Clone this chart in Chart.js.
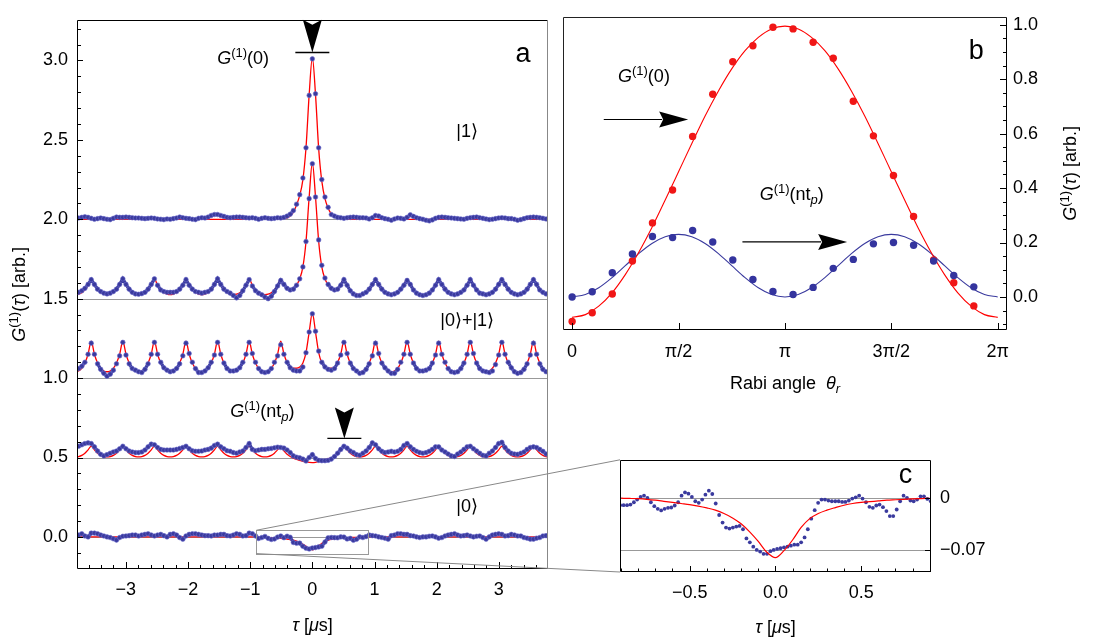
<!DOCTYPE html>
<html>
<head>
<meta charset="utf-8">
<style>
  html, body { margin: 0; padding: 0; background: #fff; }
  #fig { position: relative; width: 1105px; height: 641px; overflow: hidden; background: #fff; }
  #fig canvas { position: absolute; }
</style>
<script src="https://cdn.jsdelivr.net/npm/chart.js@4.4.0/dist/chart.umd.min.js"></script>
</head>
<body>
<div id="fig">
  <canvas id="panel-a" width="556" height="641" style="left:0;top:0;width:556px;height:641px"></canvas>
  <canvas id="panel-b" width="549" height="400" style="left:556px;top:0;width:549px;height:400px"></canvas>
  <canvas id="panel-c" width="505" height="201" style="left:600px;top:440px;width:505px;height:201px"></canvas>
  <canvas id="overlay" width="1105" height="641" style="left:0;top:0;width:1105px;height:641px;pointer-events:none"></canvas>
</div>
<script>
// ---------- panel a : G(1)(tau) traces, each shifted up by its offset ----------
const tauA = [
  -3.810, -3.759, -3.708, -3.658, -3.607, -3.556, -3.505, -3.454, -3.404, -3.353,
  -3.302, -3.251, -3.200, -3.150, -3.099, -3.048, -2.997, -2.946, -2.896, -2.845,
  -2.794, -2.743, -2.692, -2.642, -2.591, -2.540, -2.489, -2.438, -2.388, -2.337,
  -2.286, -2.235, -2.184, -2.134, -2.083, -2.032, -1.981, -1.930, -1.880, -1.829,
  -1.778, -1.727, -1.676, -1.626, -1.575, -1.524, -1.473, -1.422, -1.372, -1.321,
  -1.270, -1.219, -1.168, -1.118, -1.067, -1.016, -0.965, -0.914, -0.864, -0.813,
  -0.762, -0.711, -0.660, -0.610, -0.559, -0.508, -0.457, -0.406, -0.356, -0.305,
  -0.254, -0.203, -0.152, -0.102, -0.051, 0,
  0.051, 0.102, 0.152, 0.203, 0.254, 0.305, 0.356, 0.406, 0.457, 0.508,
  0.559, 0.610, 0.660, 0.711, 0.762, 0.813, 0.864, 0.914, 0.965, 1.016,
  1.067, 1.118, 1.168, 1.219, 1.270, 1.321, 1.372, 1.422, 1.473, 1.524,
  1.575, 1.626, 1.676, 1.727, 1.778, 1.829, 1.880, 1.930, 1.981, 2.032,
  2.083, 2.134, 2.184, 2.235, 2.286, 2.337, 2.388, 2.438, 2.489, 2.540,
  2.591, 2.642, 2.692, 2.743, 2.794, 2.845, 2.896, 2.946, 2.997, 3.048,
  3.099, 3.150, 3.200, 3.251, 3.302, 3.353, 3.404, 3.454, 3.505, 3.556,
  3.607, 3.658, 3.708, 3.759, 3.810
];

// vertical offsets of the five traces (|0>, nt_p, |0>+|1>, mixed, |1>)
const traceOffsets = [0, 0.5, 1.0, 1.5, 2.0];

// |0> measured
const dataState0 = [
  0.006, 0.012, 0.02, 0.006, 0.0, 0.024, 0.024, 0.02, 0.012, 0.006,
  0.0, -0.004, -0.012, -0.02, -0.004, 0.004, 0.006, 0.008, 0.012, 0.012,
  0.006, 0.012, 0.016, 0.02, 0.012, 0.006, 0.012, 0.016, 0.008, 0.0,
  0.016, 0.02, 0.012, -0.004, -0.014, 0.006, 0.016, 0.02, 0.02, 0.016,
  0.012, 0.008, 0.008, 0.006, 0.012, 0.012, 0.016, 0.016, 0.008, 0.006,
  0.012, 0.02, 0.016, 0.006, 0.008, 0.024, 0.02, 0.006,
  -0.01, -0.004, 0.003, -0.009, -0.016, -0.013, -0.001, 0.006, -0.005, 0.0045,
  -0.002, -0.035, -0.040, -0.039, -0.059, -0.071, -0.076, -0.070, -0.067, -0.063,
  -0.059, -0.032, -0.006, -0.0035, -0.0045, -0.0055, 0.0, -0.001, -0.013, -0.009,
  -0.021, -0.015, 0.0, -0.004, 0.002,
  0.012, 0.008, 0.006, 0.0, -0.004, -0.008, -0.014, 0.008, 0.012, 0.02,
  0.02, 0.016, 0.016, 0.008, 0.006, 0.0, -0.004, 0.0, 0.0, 0.004,
  0.006, 0.0, -0.008, -0.004, 0.006, 0.012, 0.016, 0.02, 0.012, 0.006,
  0.008, 0.012, 0.006, 0.0, 0.004, 0.006, -0.004, -0.014, 0.0, 0.012,
  0.016, 0.02, 0.016, 0.006, 0.008, 0.016, 0.012, 0.006, 0.006, -0.004,
  -0.008, -0.014, -0.014, -0.008, -0.004, 0.006, 0.008, 0.006
];
const fitState0 = [
  0, 0, 0, 0, 0, 0, 0, 0, 0, 0, 0, 0, 0, 0, 0, 0, 0, 0, 0, 0,
  0, 0, 0, 0, 0, 0, 0, 0, 0, 0, 0, 0, 0, 0, 0, 0, 0, 0, 0, 0,
  0, 0, 0, 0, 0, 0, 0, 0, 0, 0, 0, 0, 0, 0, 0, 0, 0,
  -0.0003, -0.0006, -0.001, -0.002, -0.003, -0.0045, -0.006, -0.0075, -0.009, -0.011,
  -0.013, -0.017, -0.021, -0.027, -0.035, -0.047, -0.059, -0.073, -0.081, -0.072,
  -0.056, -0.041, -0.028, -0.021, -0.016, -0.013, -0.010, -0.0075, -0.006, -0.005,
  -0.004, -0.003, -0.0024, -0.0018, -0.0012, -0.0008, -0.0004,
  0, 0, 0, 0, 0, 0, 0, 0, 0, 0, 0, 0, 0, 0, 0, 0, 0, 0, 0, 0,
  0, 0, 0, 0, 0, 0, 0, 0, 0, 0, 0, 0, 0, 0, 0, 0, 0, 0, 0, 0,
  0, 0, 0, 0, 0, 0, 0, 0, 0, 0, 0, 0, 0, 0, 0, 0, 0
];

// G(1)(nt_p) trace
const dataStateNt = [
  0.061, 0.071, 0.08, 0.088, 0.092, 0.088, 0.067, 0.041, 0.02, 0.01,
  0.018, 0.027, 0.035, 0.041, 0.055, 0.071, 0.055, 0.041, 0.035, 0.031,
  0.031, 0.035, 0.047, 0.067, 0.084, 0.08, 0.063, 0.051, 0.047, 0.047,
  0.047, 0.047, 0.051, 0.057, 0.063, 0.071, 0.055, 0.043, 0.039, 0.039,
  0.041, 0.047, 0.051, 0.059, 0.076, 0.084, 0.067, 0.055, 0.043, 0.039,
  0.031, 0.027, 0.035, 0.041, 0.063, 0.088, 0.051, 0.043, 0.047, 0.051,
  0.051, 0.055, 0.057, 0.061, 0.065, 0.063, 0.059, 0.047, 0.031, 0.01,
  0.002, -0.002, -0.01, -0.022, 0.0, 0.018, -0.006, -0.018, -0.02, -0.02, -0.018,
  -0.01, 0.006, 0.027, 0.051, 0.071, 0.059, 0.041, 0.031, 0.018, 0.014,
  0.027, 0.041, 0.063, 0.092, 0.08, 0.055, 0.039, 0.031, 0.035, 0.039,
  0.035, 0.039, 0.051, 0.076, 0.088, 0.067, 0.051, 0.039, 0.031, 0.027,
  0.031, 0.039, 0.051, 0.067, 0.067, 0.047, 0.035, 0.022, 0.01, 0.006,
  0.022, 0.035, 0.051, 0.067, 0.071, 0.055, 0.041, 0.027, 0.014, 0.01,
  0.027, 0.041, 0.063, 0.088, 0.096, 0.063, 0.041, 0.027, 0.022, 0.02,
  0.027, 0.035, 0.051, 0.063, 0.067, 0.063, 0.051, 0.039, 0.022, 0.01
];
const fitStateNt = [
  0.004, 0.006, 0.013, 0.027, 0.048, 0.072, 0.048, 0.027, 0.013, 0.006,
  0.004, 0.006, 0.013, 0.027, 0.048, 0.072, 0.048, 0.027, 0.013, 0.006,
  0.004, 0.006, 0.013, 0.027, 0.048, 0.072, 0.048, 0.027, 0.013, 0.006,
  0.004, 0.006, 0.013, 0.027, 0.048, 0.072, 0.048, 0.027, 0.013, 0.006,
  0.004, 0.006, 0.013, 0.027, 0.048, 0.072, 0.048, 0.027, 0.013, 0.006,
  0.004, 0.006, 0.013, 0.027, 0.048, 0.072, 0.048, 0.027, 0.013, 0.006,
  0.004, 0.006, 0.013, 0.027, 0.048,
  0.065, 0.042, 0.02, 0.006, -0.004, -0.012, -0.018, -0.024, -0.028, -0.031,
  -0.032, -0.030, -0.026, -0.020, -0.014, -0.008, -0.002, 0.007, 0.022, 0.044, 0.068,
  0.048, 0.027, 0.013, 0.006, 0.004,
  0.006, 0.013, 0.027, 0.048, 0.072, 0.048, 0.027, 0.013, 0.006, 0.004,
  0.006, 0.013, 0.027, 0.048, 0.072, 0.048, 0.027, 0.013, 0.006, 0.004,
  0.006, 0.013, 0.027, 0.048, 0.072, 0.048, 0.027, 0.013, 0.006, 0.004,
  0.006, 0.013, 0.027, 0.048, 0.072, 0.048, 0.027, 0.013, 0.006, 0.004,
  0.006, 0.013, 0.027, 0.048, 0.072, 0.048, 0.027, 0.013, 0.006, 0.004,
  0.006, 0.013, 0.027, 0.048, 0.072, 0.048, 0.027, 0.013, 0.006, 0.004
];

// |0>+|1>
const dataState01 = [
  0.05, 0.06, 0.075, 0.10, 0.15, 0.22, 0.15, 0.09, 0.055, 0.03,
  0.012, 0.025, 0.05, 0.09, 0.14, 0.225, 0.145, 0.09, 0.06, 0.05,
  0.04, 0.035, 0.055, 0.09, 0.15, 0.225, 0.15, 0.10, 0.065, 0.05,
  0.04, 0.045, 0.06, 0.09, 0.14, 0.22, 0.155, 0.1, 0.06, 0.035,
  0.035, 0.045, 0.065, 0.1, 0.145, 0.225, 0.15, 0.095, 0.06, 0.045,
  0.045, 0.05, 0.065, 0.10, 0.15, 0.225, 0.155, 0.1, 0.06, 0.04,
  0.035, 0.04, 0.06, 0.1, 0.14,
  0.21, 0.15, 0.1, 0.065, 0.05, 0.045, 0.045, 0.07, 0.16, 0.29,
  0.405, 0.295, 0.17, 0.1, 0.07, 0.055, 0.05, 0.06, 0.095, 0.145, 0.225,
  0.155, 0.095, 0.06, 0.045, 0.03,
  0.035, 0.055, 0.09, 0.14, 0.22, 0.155, 0.095, 0.065, 0.045, 0.03,
  0.03, 0.055, 0.1, 0.15, 0.225, 0.15, 0.095, 0.06, 0.045, 0.045,
  0.05, 0.06, 0.095, 0.145, 0.22, 0.15, 0.1, 0.06, 0.04, 0.035,
  0.04, 0.06, 0.095, 0.15, 0.225, 0.155, 0.095, 0.06, 0.045, 0.04,
  0.035, 0.045, 0.085, 0.145, 0.225, 0.15, 0.1, 0.065, 0.04, 0.03,
  0.035, 0.055, 0.09, 0.145, 0.22, 0.15, 0.09, 0.055, 0.04, 0.04
];
const fitState01 = [
  0.040, 0.045, 0.062, 0.095, 0.150, 0.232, 0.150, 0.095, 0.062, 0.045,
  0.040, 0.045, 0.062, 0.095, 0.150, 0.232, 0.150, 0.095, 0.062, 0.045,
  0.040, 0.045, 0.062, 0.095, 0.150, 0.232, 0.150, 0.095, 0.062, 0.045,
  0.040, 0.045, 0.062, 0.095, 0.150, 0.232, 0.150, 0.095, 0.062, 0.045,
  0.040, 0.045, 0.062, 0.095, 0.150, 0.232, 0.150, 0.095, 0.062, 0.045,
  0.040, 0.045, 0.062, 0.095, 0.150, 0.232, 0.150, 0.095, 0.062, 0.045,
  0.040, 0.045, 0.062, 0.095, 0.150,
  0.232, 0.152, 0.098, 0.069, 0.062, 0.062, 0.070, 0.095, 0.160, 0.290,
  0.410, 0.290, 0.160, 0.095, 0.070, 0.062, 0.062, 0.069, 0.098, 0.152, 0.232,
  0.150, 0.095, 0.062, 0.045, 0.040,
  0.045, 0.062, 0.095, 0.150, 0.232, 0.150, 0.095, 0.062, 0.045, 0.040,
  0.045, 0.062, 0.095, 0.150, 0.232, 0.150, 0.095, 0.062, 0.045, 0.040,
  0.045, 0.062, 0.095, 0.150, 0.232, 0.150, 0.095, 0.062, 0.045, 0.040,
  0.045, 0.062, 0.095, 0.150, 0.232, 0.150, 0.095, 0.062, 0.045, 0.040,
  0.045, 0.062, 0.095, 0.150, 0.232, 0.150, 0.095, 0.062, 0.045, 0.040,
  0.045, 0.062, 0.095, 0.150, 0.232, 0.150, 0.095, 0.062, 0.045, 0.040
];

// trace at offset 1.5
const dataState15 = [
  0.03, 0.04, 0.05, 0.065, 0.09, 0.12, 0.09, 0.06, 0.045, 0.035,
  0.03, 0.035, 0.045, 0.06, 0.09, 0.125, 0.09, 0.06, 0.04, 0.03,
  0.028, 0.032, 0.04, 0.06, 0.09, 0.125, 0.085, 0.055, 0.045, 0.04,
  0.04, 0.04, 0.045, 0.06, 0.085, 0.12, 0.085, 0.06, 0.045, 0.04,
  0.035, 0.04, 0.045, 0.06, 0.09, 0.125, 0.09, 0.06, 0.045, 0.035,
  0.02, 0.005, 0.02, 0.05, 0.085, 0.12, 0.08, 0.05, 0.035, 0.025,
  0.01, 0.0, 0.015, 0.045, 0.08,
  0.115, 0.09, 0.065, 0.055, 0.06, 0.085, 0.125, 0.2, 0.36, 0.63,
  0.85, 0.64, 0.37, 0.21, 0.13, 0.09, 0.065, 0.055, 0.06, 0.085, 0.12,
  0.085, 0.05, 0.03, 0.02, 0.02,
  0.03, 0.04, 0.06, 0.09, 0.12, 0.09, 0.06, 0.04, 0.03, 0.025,
  0.03, 0.04, 0.06, 0.085, 0.115, 0.09, 0.055, 0.035, 0.025, 0.02,
  0.025, 0.035, 0.055, 0.085, 0.12, 0.09, 0.06, 0.04, 0.03, 0.025,
  0.03, 0.04, 0.055, 0.085, 0.12, 0.085, 0.055, 0.035, 0.03, 0.025,
  0.03, 0.04, 0.06, 0.09, 0.12, 0.09, 0.06, 0.04, 0.03, 0.025,
  0.03, 0.04, 0.06, 0.09, 0.12, 0.09, 0.055, 0.04, 0.03, 0.02
];
const fitState15 = [
  0.025, 0.028, 0.037, 0.055, 0.085, 0.125, 0.085, 0.055, 0.037, 0.028,
  0.025, 0.028, 0.037, 0.055, 0.085, 0.125, 0.085, 0.055, 0.037, 0.028,
  0.025, 0.028, 0.037, 0.055, 0.085, 0.125, 0.085, 0.055, 0.037, 0.028,
  0.025, 0.028, 0.037, 0.055, 0.085, 0.125, 0.085, 0.055, 0.037, 0.028,
  0.025, 0.028, 0.037, 0.055, 0.085, 0.125, 0.085, 0.055, 0.037, 0.028,
  0.025, 0.028, 0.037, 0.055, 0.085, 0.125, 0.085, 0.055, 0.037, 0.028,
  0.025, 0.028, 0.037, 0.055, 0.085,
  0.125, 0.088, 0.063, 0.055, 0.06, 0.085, 0.125, 0.2, 0.36, 0.64,
  0.857, 0.64, 0.36, 0.2, 0.125, 0.085, 0.06, 0.055, 0.063, 0.088, 0.125,
  0.085, 0.055, 0.037, 0.028, 0.025,
  0.028, 0.037, 0.055, 0.085, 0.125, 0.085, 0.055, 0.037, 0.028, 0.025,
  0.028, 0.037, 0.055, 0.085, 0.125, 0.085, 0.055, 0.037, 0.028, 0.025,
  0.028, 0.037, 0.055, 0.085, 0.125, 0.085, 0.055, 0.037, 0.028, 0.025,
  0.028, 0.037, 0.055, 0.085, 0.125, 0.085, 0.055, 0.037, 0.028, 0.025,
  0.028, 0.037, 0.055, 0.085, 0.125, 0.085, 0.055, 0.037, 0.028, 0.025,
  0.028, 0.037, 0.055, 0.085, 0.125, 0.085, 0.055, 0.037, 0.028, 0.025
];

// |1>
const dataState1 = [
  0.005, 0.008, 0.012, 0.016, 0.012, 0.006, 0.0, 0.004, 0.008, 0.004,
  0.0, -0.002, 0.006, 0.014, 0.012,
  0.012, 0.014, 0.012, 0.010, 0.008, 0.008, 0.006, 0.004, 0.006, 0.008,
  0.006, 0.002, 0.0, -0.002, 0.002,
  0.0, 0.004, 0.008, 0.014, 0.010, 0.006, 0.004, 0.0, -0.002, 0.006,
  0.010, 0.008, 0.014, 0.024, 0.030,
  0.030, 0.024, 0.018, 0.012, 0.010, 0.012, 0.014, 0.014, 0.012, 0.010,
  0.008, 0.010, 0.006, 0.0, 0.006,
  0.010, 0.006, 0.004, 0.006, 0.010, 0.008, 0.012, 0.020, 0.032, 0.055,
  0.095, 0.155, 0.26, 0.45, 0.78, 1.01, 0.79, 0.45, 0.25, 0.14, 0.075,
  0.03, 0.02, 0.012, 0.01, 0.006, 0.01, 0.012, 0.014, 0.012, 0.01,
  0.01, 0.008, 0.002, 0.01, 0.024, 0.02, 0.01, 0.004, 0.0, -0.006,
  0.002, 0.008, 0.006, 0.002, 0.012, 0.028, 0.018, 0.01, 0.004, 0.0,
  -0.006, -0.01, -0.004, 0.006, 0.012, 0.014, 0.012, 0.01, 0.008, 0.006,
  0.004, 0.002, 0.0, 0.006, 0.01, 0.012, 0.014, 0.01, 0.006, 0.002,
  -0.002, 0.0, 0.004, 0.008, 0.01, 0.008, 0.004, 0.004, 0.0, -0.006,
  -0.002, 0.004, 0.01, 0.012, 0.014, 0.012, 0.01, 0.006, 0.002, 0.0
];
const fitState1 = [
  0, 0, 0, 0, 0, 0, 0, 0, 0, 0, 0, 0, 0, 0, 0, 0, 0, 0, 0, 0, 0, 0,
  0, 0, 0, 0, 0, 0, 0, 0, 0, 0, 0, 0, 0, 0, 0, 0, 0, 0, 0, 0, 0, 0,
  0, 0, 0, 0, 0, 0, 0, 0, 0, 0, 0, 0, 0, 0, 0, 0, 0, 0, 0, 0, 0, 0,
  0.004, 0.009, 0.02, 0.045, 0.09, 0.15, 0.25, 0.45, 0.785, 1.02,
  0.785, 0.443, 0.24, 0.13, 0.07, 0.035, 0.018, 0.009, 0.004,
  0, 0, 0, 0, 0, 0, 0, 0, 0, 0, 0, 0, 0, 0, 0, 0, 0, 0, 0, 0, 0, 0,
  0, 0, 0, 0, 0, 0, 0, 0, 0, 0, 0, 0, 0, 0, 0, 0, 0, 0, 0, 0, 0, 0,
  0, 0, 0, 0, 0, 0, 0, 0, 0, 0, 0, 0, 0, 0, 0, 0, 0, 0, 0, 0, 0, 0
];

// ---------- panel b : peak heights against Rabi angle ----------
const rabiAngle = [
  0, 0.297, 0.593, 0.890, 1.186, 1.483, 1.779, 2.076, 2.372, 2.669, 2.965,
  3.262, 3.558, 3.855, 4.151, 4.448, 4.744, 5.041, 5.337, 5.634, 5.930
];
const peakG0 = [
  -0.090, -0.058, 0.011, 0.132, 0.272, 0.393, 0.590, 0.745, 0.864, 0.923, 0.991,
  0.985, 0.936, 0.877, 0.719, 0.592, 0.446, 0.296, 0.136, 0.052, -0.033
];
const peakGnt = [
  0.0, 0.019, 0.089, 0.158, 0.222, 0.218, 0.244, 0.202, 0.136, 0.064, 0.020,
  0.009, 0.035, 0.105, 0.138, 0.195, 0.200, 0.190, 0.132, 0.079, 0.037
];
const rabiFitAngle = [
  0, 0.196, 0.393, 0.589, 0.785, 0.982, 1.178, 1.374, 1.571, 1.767, 1.963,
  2.160, 2.356, 2.553, 2.749, 2.945, 3.142, 3.338, 3.534, 3.731, 3.927, 4.123,
  4.320, 4.516, 4.712, 4.909, 5.105, 5.301, 5.498, 5.694, 5.890, 6.087, 6.283
];
const fitPeakG0 = [
  -0.075, -0.065, -0.034, 0.015, 0.082, 0.163, 0.255, 0.356, 0.46, 0.564, 0.665,
  0.757, 0.838, 0.905, 0.954, 0.985, 0.995, 0.985, 0.954, 0.905, 0.838, 0.757,
  0.665, 0.564, 0.46, 0.356, 0.255, 0.163, 0.082, 0.015, -0.034, -0.065, -0.075
];
const fitPeakGnt = [
  0, 0.0088, 0.0337, 0.071, 0.115, 0.159, 0.1963, 0.2212, 0.23, 0.2212, 0.1963,
  0.159, 0.115, 0.071, 0.0337, 0.0088, 0, 0.0088, 0.0337, 0.071, 0.115, 0.159,
  0.1963, 0.2212, 0.23, 0.2212, 0.1963, 0.159, 0.115, 0.071, 0.0337, 0.0088, 0
];

// ---------- panel c : close-up of the |0> dip ----------
const tauC = [
  -0.905, -0.885, -0.865, -0.845, -0.825, -0.806, -0.786, -0.766, -0.746, -0.726,
  -0.706, -0.686, -0.666, -0.646, -0.626, -0.607, -0.587, -0.567, -0.547, -0.527,
  -0.507, -0.487, -0.467, -0.447, -0.427, -0.408, -0.388, -0.368, -0.348, -0.328,
  -0.308, -0.288, -0.268, -0.248, -0.228, -0.209, -0.189, -0.169, -0.149, -0.129,
  -0.109, -0.089, -0.069, -0.049, -0.029, -0.010, 0.010, 0.030, 0.050, 0.070,
  0.090, 0.110, 0.130, 0.150, 0.170, 0.189, 0.209, 0.229, 0.249, 0.269,
  0.289, 0.309, 0.329, 0.349, 0.369, 0.389, 0.408, 0.428, 0.448, 0.468,
  0.488, 0.508, 0.528, 0.548, 0.568, 0.588, 0.607, 0.627, 0.647, 0.667,
  0.687, 0.707, 0.727, 0.747, 0.767, 0.787, 0.806, 0.826, 0.846, 0.866,
  0.886, 0.906
];
const dipC = [
  -0.0098, -0.0098, -0.0098, -0.0089, -0.0058, -0.0022, 0.0014, 0.0032, 0.0, -0.0058,
  -0.0111, -0.0147, -0.0169, -0.0147, -0.0133, -0.0129, -0.0102, -0.0058, 0.0032, 0.0076,
  0.0058, 0.0014, -0.0044, -0.0066, -0.0022, 0.0045, 0.0099, 0.0054, -0.0075, -0.0231,
  -0.0334, -0.0401, -0.0415, -0.0401, -0.0388, -0.0379, -0.0424, -0.0549, -0.0602, -0.0660,
  -0.0705, -0.0727, -0.0758, -0.0758, -0.0722, -0.0705, -0.0691, -0.0682, -0.0669, -0.0660,
  -0.0647, -0.0633, -0.0633, -0.0602, -0.0535, -0.0424, -0.0281, -0.0165, -0.0066, -0.0022,
  -0.0022, -0.0035, -0.0044, -0.0044, -0.0044, -0.0053, -0.0053, -0.0035, -0.0008, 0.0009,
  0.0032, -0.0008, -0.0058, -0.0120, -0.0133, -0.0102, -0.0089, -0.0124, -0.0178, -0.0245,
  -0.0245, -0.0156, -0.0044, 0.0032, 0.0, -0.0035, -0.0044, -0.0022, 0.0023, 0.0023,
  -0.0013, -0.0044
];
const fitTauC = [
  -0.90, -0.85, -0.80, -0.75, -0.70, -0.65, -0.60, -0.55, -0.50, -0.45, -0.40, -0.35,
  -0.30, -0.25, -0.20, -0.15, -0.10, -0.05, 0, 0.05, 0.10, 0.15, 0.20, 0.25,
  0.30, 0.35, 0.40, 0.45, 0.50, 0.55, 0.60, 0.65, 0.70, 0.75, 0.80, 0.85, 0.90
];
const fitDipC = [
  -0.0003, -0.0006, -0.001, -0.0018, -0.003, -0.0045, -0.006, -0.0075, -0.009, -0.011,
  -0.0135, -0.0165, -0.021, -0.027, -0.035, -0.046, -0.059, -0.0735, -0.081, -0.0715,
  -0.057, -0.040, -0.028, -0.021, -0.0165, -0.013, -0.0098, -0.0075, -0.006, -0.005,
  -0.004, -0.003, -0.0024, -0.0018, -0.0012, -0.0008, -0.0004
];

[dataState0, fitState0, dataStateNt, fitStateNt, dataState01, fitState01,
 dataState15, fitState15, dataState1, fitState1].forEach((a, i) => {
  if (a.length !== tauA.length) throw new Error('panel a series ' + i + ' has ' + a.length + ' values');
});

// ---------- styling ----------
const FONT = "'Liberation Sans', Arial, Helvetica, sans-serif";
const RED = 'rgb(255,0,0)';
const BLUE = 'rgb(58,58,158)';
const GREY = '#999';

Chart.defaults.font.family = FONT;
Chart.defaults.font.size = 18;
Chart.defaults.color = '#000';
Chart.defaults.animation = false;

const xy = (xs, ys, offset = 0) => xs.map((x, i) => ({ x: x, y: ys[i] + offset }));
const minus = v => (v < 0 ? '\u2212' + Math.abs(v) : String(v));

// rich text: parts like {t, it, sup, sub}
function richText(ctx, parts, x, y, opts = {}) {
  const size = opts.size || 18;
  const runs = parts.map(p => {
    const s = (p.sup || p.sub) ? Math.round(size * 0.7) : size;
    const font = (p.it ? 'italic ' : '') + s + 'px ' + FONT;
    ctx.font = font;
    return { t: p.t, font: font, w: ctx.measureText(p.t).width, dy: p.sup ? -size * 0.38 : (p.sub ? size * 0.22 : 0) };
  });
  const total = runs.reduce((a, r) => a + r.w, 0);
  ctx.save();
  ctx.translate(x, y);
  if (opts.rotate) ctx.rotate(opts.rotate);
  ctx.fillStyle = '#000';
  ctx.textAlign = 'left';
  ctx.textBaseline = 'alphabetic';
  let cx = opts.align === 'center' ? -total / 2 : 0;
  runs.forEach(r => { ctx.font = r.font; ctx.fillText(r.t, cx, r.dy); cx += r.w; });
  ctx.restore();
}

// black dart arrowhead; (dx, dy) is the unit direction of travel
function dart(ctx, tipX, tipY, dx, dy, len, half, notch) {
  const bx = tipX - dx * len, by = tipY - dy * len;
  const nx = -dy, ny = dx;
  ctx.beginPath();
  ctx.moveTo(tipX, tipY);
  ctx.lineTo(bx + nx * half, by + ny * half);
  ctx.lineTo(tipX - dx * (len - notch), tipY - dy * (len - notch));
  ctx.lineTo(bx - nx * half, by - ny * half);
  ctx.closePath();
  ctx.fill();
}

function frame(ctx, ca, colors) {
  const l = Math.round(ca.left) + 0.5, r = Math.round(ca.right) - 0.5;
  const t = Math.round(ca.top) + 0.5, b = Math.round(ca.bottom) - 0.5;
  ctx.save();
  ctx.lineWidth = 1;
  [['top', l, t, r, t], ['right', r, t, r, b], ['bottom', l, b, r, b], ['left', l, t, l, b]].forEach(([side, x1, y1, x2, y2]) => {
    ctx.strokeStyle = colors[side];
    ctx.beginPath(); ctx.moveTo(x1, y1); ctx.lineTo(x2, y2); ctx.stroke();
  });
  ctx.restore();
}

// inward tick marks: spec = {bottom: [[v, len]], left: [...], right: [...]}
function tickMarks(ctx, chart, spec) {
  const ca = chart.chartArea, sx = chart.scales.x, sy = chart.scales.y;
  ctx.save();
  ctx.strokeStyle = '#000';
  ctx.lineWidth = 1;
  ctx.beginPath();
  (spec.bottom || []).forEach(([v, len]) => {
    const px = Math.round(sx.getPixelForValue(v)) + 0.5;
    if (px < ca.left || px > ca.right) return;
    ctx.moveTo(px, ca.bottom); ctx.lineTo(px, ca.bottom - len);
  });
  (spec.left || []).forEach(([v, len]) => {
    const py = Math.round(sy.getPixelForValue(v)) + 0.5;
    if (py < ca.top || py > ca.bottom) return;
    ctx.moveTo(ca.left, py); ctx.lineTo(ca.left + len, py);
  });
  (spec.right || []).forEach(([v, len]) => {
    const py = Math.round(sy.getPixelForValue(v)) + 0.5;
    if (py < ca.top || py > ca.bottom) return;
    ctx.moveTo(ca.right, py); ctx.lineTo(ca.right - len, py);
  });
  ctx.stroke();
  ctx.restore();
}

const G1_0 = [{ t: 'G', it: 1 }, { t: '(1)', sup: 1 }, { t: '(0)' }];
const G1_nt = [{ t: 'G', it: 1 }, { t: '(1)', sup: 1 }, { t: '(nt' }, { t: 'p', it: 1, sub: 1 }, { t: ')' }];
const G1_tau = [{ t: 'G', it: 1 }, { t: '(1)', sup: 1 }, { t: '(' }, { t: '\u03c4', it: 1 }, { t: ') [arb.]' }];
const TAU_US = [{ t: '\u03c4', it: 1 }, { t: ' [' }, { t: '\u03bc', it: 1 }, { t: 's]' }];

const noLegend = { legend: { display: false }, tooltip: { enabled: false } };
const hiddenGrid = { display: false, drawTicks: false, tickLength: 0 };

// ---------- panel a chart ----------
const zoomBox = { x0: -0.9, x1: 0.9, y0: -0.105, y1: 0.042 };
const markersA = [{ tau: 0, tip: 3.05, top: 3.256 }, { tau: 0.515, tip: 0.62, top: 0.815 }];

const ticksA = {
  left: [], bottom: []
};
for (let i = -2; i <= 32; i++) ticksA.left.push([i / 10, i % 5 === 0 ? 6 : 4]);
for (let i = -19; i <= 19; i++) ticksA.bottom.push([i / 5, i % 5 === 0 ? 7 : 4]);

const panelA = {
  id: 'panelA',
  beforeDatasetsDraw(chart) {
    const { ctx, chartArea: ca, scales: { y } } = chart;
    ctx.save();
    ctx.strokeStyle = GREY;
    ctx.lineWidth = 1;
    traceOffsets.forEach(v => {
      const py = Math.round(y.getPixelForValue(v)) + 0.5;
      ctx.beginPath(); ctx.moveTo(ca.left, py); ctx.lineTo(ca.right, py); ctx.stroke();
    });
    ctx.restore();
  },
  afterDatasetsDraw(chart) {
    const { ctx, chartArea: ca, scales: { x, y } } = chart;
    // zoom window
    ctx.save();
    ctx.strokeStyle = GREY;
    ctx.lineWidth = 1;
    const rx0 = Math.round(x.getPixelForValue(zoomBox.x0)) + 0.5, rx1 = Math.round(x.getPixelForValue(zoomBox.x1)) + 0.5;
    const ry0 = Math.round(y.getPixelForValue(zoomBox.y1)) + 0.5, ry1 = Math.round(y.getPixelForValue(zoomBox.y0)) + 0.5;
    ctx.strokeRect(rx0, ry0, rx1 - rx0, ry1 - ry0);
    ctx.restore();

    frame(ctx, ca, { top: '#000', right: '#888', bottom: '#000', left: '#000' });
    tickMarks(ctx, chart, ticksA);

    // peak markers
    ctx.save();
    ctx.fillStyle = '#000';
    ctx.strokeStyle = '#000';
    ctx.lineWidth = 1.3;
    markersA.forEach(m => {
      const px = x.getPixelForValue(m.tau), tip = y.getPixelForValue(m.tip), top = y.getPixelForValue(m.top);
      dart(ctx, px, tip, 0, 1, tip - top, 9.5, 5);
      ctx.beginPath(); ctx.moveTo(px - 17, tip); ctx.lineTo(px + 17, tip); ctx.stroke();
    });
    ctx.restore();

    // labels
    richText(ctx, G1_0, x.getPixelForValue(-1.53), y.getPixelForValue(2.98));
    richText(ctx, [{ t: '|1\u27e9' }], x.getPixelForValue(2.49), y.getPixelForValue(2.52), { align: 'center' });
    richText(ctx, [{ t: '|0\u27e9+|1\u27e9' }], x.getPixelForValue(2.49), y.getPixelForValue(1.33), { align: 'center' });
    richText(ctx, G1_nt, x.getPixelForValue(-1.32), y.getPixelForValue(0.755));
    richText(ctx, [{ t: '|0\u27e9' }], x.getPixelForValue(2.49), y.getPixelForValue(0.16), { align: 'center' });
    richText(ctx, [{ t: 'a' }], x.getPixelForValue(3.39), y.getPixelForValue(2.99), { align: 'center', size: 27 });

    // axis titles
    richText(ctx, TAU_US, (ca.left + ca.right) / 2, 631, { align: 'center' });
    richText(ctx, G1_tau, 25, (ca.top + ca.bottom) / 2, { align: 'center', rotate: -Math.PI / 2 });
  }
};

const tracesA = [
  { data: dataState0, fit: fitState0, offset: traceOffsets[0] },
  { data: dataStateNt, fit: fitStateNt, offset: traceOffsets[1] },
  { data: dataState01, fit: fitState01, offset: traceOffsets[2] },
  { data: dataState15, fit: fitState15, offset: traceOffsets[3] },
  { data: dataState1, fit: fitState1, offset: traceOffsets[4] }
];

// measured points merge into a thick band where the trace is flat,
// and stay as separate dots on the steep flanks
const bandColour = ctx => (Math.abs(ctx.p1.y - ctx.p0.y) > 6 ? 'rgba(0,0,0,0)' : BLUE);

const chartA = new Chart(document.getElementById('panel-a'), {
  type: 'line',
  data: {
    datasets: tracesA.flatMap(t => [
      {
        data: xy(tauA, t.fit, t.offset),
        borderColor: RED, borderWidth: 1.3, pointRadius: 0,
        cubicInterpolationMode: 'monotone', order: 2, clip: 0
      },
      {
        data: xy(tauA, t.data, t.offset),
        borderColor: BLUE, borderWidth: 3.2,
        segment: { borderColor: bandColour },
        pointRadius: 2.3, pointBorderWidth: 1,
        pointBackgroundColor: BLUE, pointBorderColor: 'rgba(110,110,205,0.6)',
        order: 1, clip: 0
      }
    ])
  },
  options: {
    responsive: false,
    devicePixelRatio: 1,
    events: [],
    layout: { padding: { left: 0, top: 5, right: 8, bottom: 0 } },
    plugins: noLegend,
    scales: {
      x: {
        type: 'linear', min: -3.785, max: 3.79,
        grid: hiddenGrid, border: { display: false },
        afterBuildTicks: s => { s.ticks = [-3, -2, -1, 0, 1, 2, 3].map(v => ({ value: v })); },
        afterFit: s => { s.height = 72; },
        ticks: { padding: 10, maxRotation: 0, callback: v => minus(v) }
      },
      y: {
        type: 'linear', min: -0.202, max: 3.256,
        grid: hiddenGrid, border: { display: false },
        afterBuildTicks: s => { s.ticks = [0, 0.5, 1, 1.5, 2, 2.5, 3].map(v => ({ value: v })); },
        afterFit: s => { s.width = 77; },
        ticks: { padding: 9, callback: v => v.toFixed(1) }
      }
    }
  },
  plugins: [panelA]
});

// ---------- panel b chart ----------
const arrowsB = [{ from: 0.467, to: 1.713, y: 0.652 }, { from: 2.514, to: 4.06, y: 0.202 }];
const ticksB = { right: [], bottom: [] };
for (let i = -2; i <= 20; i++) ticksB.right.push([i / 20, i % 4 === 0 ? 7 : 4]);
for (let i = 0; i <= 4; i++) ticksB.bottom.push([i * Math.PI / 2, 7]);

const panelB = {
  id: 'panelB',
  afterDatasetsDraw(chart) {
    const { ctx, chartArea: ca, scales: { x, y } } = chart;
    frame(ctx, ca, { top: '#222', right: '#000', bottom: '#000', left: '#222' });
    tickMarks(ctx, chart, ticksB);

    ctx.save();
    ctx.fillStyle = '#000';
    ctx.strokeStyle = '#000';
    ctx.lineWidth = 1.2;
    arrowsB.forEach(a => {
      const x0 = x.getPixelForValue(a.from), x1 = x.getPixelForValue(a.to), py = y.getPixelForValue(a.y);
      ctx.beginPath(); ctx.moveTo(x0, py); ctx.lineTo(x1 - 26, py); ctx.stroke();
      dart(ctx, x1, py, 1, 0, 29, 8, 4);
    });
    ctx.restore();

    richText(ctx, G1_0, x.getPixelForValue(0.677), y.getPixelForValue(0.789));
    richText(ctx, G1_nt, x.getPixelForValue(2.769), y.getPixelForValue(0.357));
    richText(ctx, [{ t: 'b' }], x.getPixelForValue(5.965), y.getPixelForValue(0.876), { align: 'center', size: 27 });

    richText(ctx, [{ t: 'Rabi angle  ' }, { t: '\u03b8', it: 1 }, { t: 'r', it: 1, sub: 1 }], (ca.left + ca.right) / 2, 389, { align: 'center' });
    richText(ctx, G1_tau, 520, (ca.top + ca.bottom) / 2, { align: 'center', rotate: -Math.PI / 2 });
  }
};

const piLabels = ['0', '\u03c0/2', '\u03c0', '3\u03c0/2', '2\u03c0'];
const chartB = new Chart(document.getElementById('panel-b'), {
  type: 'line',
  data: {
    datasets: [
      { data: xy(rabiFitAngle, fitPeakG0), borderColor: RED, borderWidth: 1.1, pointRadius: 0, cubicInterpolationMode: 'monotone', order: 2, clip: 0 },
      { data: xy(rabiFitAngle, fitPeakGnt), borderColor: BLUE, borderWidth: 1.1, pointRadius: 0, cubicInterpolationMode: 'monotone', order: 2, clip: 0 },
      { data: xy(rabiAngle, peakGnt), showLine: false, pointRadius: 3.7, pointBorderWidth: 0, pointBackgroundColor: 'rgb(52,52,158)', order: 1, clip: 0 },
      { data: xy(rabiAngle, peakG0), showLine: false, pointRadius: 3.7, pointBorderWidth: 0, pointBackgroundColor: 'rgb(240,22,22)', order: 1, clip: 0 }
    ]
  },
  options: {
    responsive: false,
    devicePixelRatio: 1,
    events: [],
    layout: { padding: { left: 6, top: 5, right: 0, bottom: 0 } },
    plugins: noLegend,
    scales: {
      x: {
        type: 'linear', min: -0.1325, max: 6.42,
        grid: hiddenGrid, border: { display: false },
        afterBuildTicks: s => { s.ticks = [0, 1, 2, 3, 4].map(i => ({ value: i * Math.PI / 2 })); },
        afterFit: s => { s.height = 70; },
        ticks: { padding: 11, maxRotation: 0, autoSkip: false, callback: (v, i) => piLabels[i] }
      },
      y: {
        type: 'linear', position: 'right', min: -0.1215, max: 1.0294,
        grid: hiddenGrid, border: { display: false },
        afterBuildTicks: s => { s.ticks = [0, 0.2, 0.4, 0.6, 0.8, 1.0].map(v => ({ value: v })); },
        afterFit: s => { s.width = 98; },
        ticks: { padding: 6, callback: v => v.toFixed(1) }
      }
    }
  },
  plugins: [panelB]
});

// ---------- panel c chart ----------
const ticksC = { right: [[0, 6], [-0.07, 6]], bottom: [] };
for (let i = -9; i <= 9; i++) ticksC.bottom.push([i / 10, i % 5 === 0 ? 6 : 3.5]);

const panelC = {
  id: 'panelC',
  beforeDatasetsDraw(chart) {
    const { ctx, chartArea: ca, scales: { y } } = chart;
    ctx.save();
    ctx.strokeStyle = GREY;
    ctx.lineWidth = 1;
    [0, -0.07].forEach(v => {
      const py = Math.round(y.getPixelForValue(v)) + 0.5;
      ctx.beginPath(); ctx.moveTo(ca.left, py); ctx.lineTo(ca.right, py); ctx.stroke();
    });
    ctx.restore();
  },
  afterDatasetsDraw(chart) {
    const { ctx, chartArea: ca, scales: { x, y } } = chart;
    frame(ctx, ca, { top: '#000', right: '#000', bottom: '#000', left: '#000' });
    tickMarks(ctx, chart, ticksC);
    richText(ctx, [{ t: 'c' }], x.getPixelForValue(0.758), y.getPixelForValue(0.0197), { align: 'center', size: 27 });
    richText(ctx, TAU_US, (ca.left + ca.right) / 2, 193, { align: 'center' });
  }
};

const chartC = new Chart(document.getElementById('panel-c'), {
  type: 'line',
  data: {
    datasets: [
      { data: xy(fitTauC, fitDipC), borderColor: RED, borderWidth: 1.2, pointRadius: 0, cubicInterpolationMode: 'monotone', order: 1, clip: 0 },
      { data: xy(tauC, dipC), showLine: false, pointRadius: 1.9, pointBorderWidth: 0, pointBackgroundColor: BLUE, order: 2, clip: 0 }
    ]
  },
  options: {
    responsive: false,
    devicePixelRatio: 1,
    events: [],
    layout: { padding: { left: 20, top: 18, right: 0, bottom: 0 } },
    plugins: noLegend,
    scales: {
      x: {
        type: 'linear', min: -0.906, max: 0.907,
        grid: hiddenGrid, border: { display: false },
        afterBuildTicks: s => { s.ticks = [-0.5, 0, 0.5].map(v => ({ value: v })); },
        afterFit: s => { s.height = 69; },
        ticks: { padding: 10, maxRotation: 0, callback: v => minus(v.toFixed(1)) }
      },
      y: {
        type: 'linear', position: 'right', min: -0.1004, max: 0.0518,
        grid: hiddenGrid, border: { display: false },
        afterBuildTicks: s => { s.ticks = [-0.07, 0].map(v => ({ value: v })); },
        afterFit: s => { s.width = 174; },
        ticks: { padding: 9, callback: v => (v === 0 ? '0' : '\u22120.07') }
      }
    }
  },
  plugins: [panelC]
});

// ---------- lines joining the zoom window to panel c ----------
(function () {
  const ov = document.getElementById('overlay').getContext('2d');
  const ax = chartA.scales.x, ay = chartA.scales.y;
  const cLeft = 600 + chartC.chartArea.left, cTop = 440 + chartC.chartArea.top, cBottom = 440 + chartC.chartArea.bottom;
  const bx = ax.getPixelForValue(zoomBox.x0);
  ov.strokeStyle = '#888';
  ov.lineWidth = 1;
  ov.beginPath();
  ov.moveTo(bx, ay.getPixelForValue(zoomBox.y1)); ov.lineTo(cLeft, cTop);
  ov.moveTo(bx, ay.getPixelForValue(zoomBox.y0)); ov.lineTo(cLeft, cBottom);
  ov.stroke();
})();
</script>
</body>
</html>
